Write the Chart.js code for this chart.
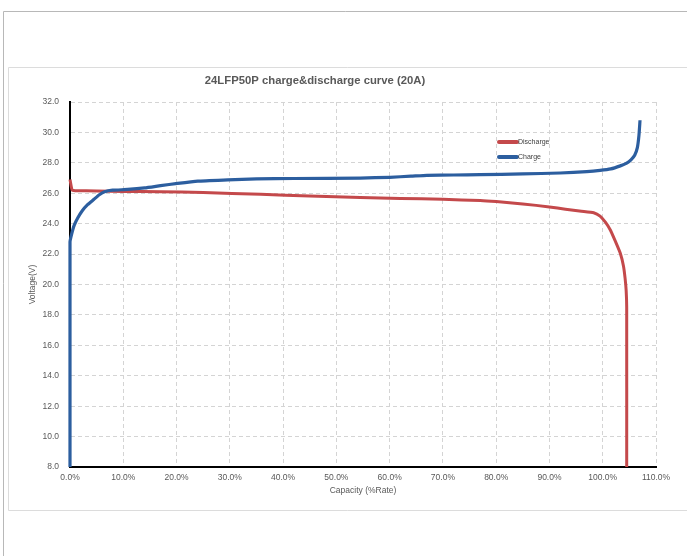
<!DOCTYPE html>
<html>
<head>
<meta charset="utf-8">
<script src="https://cdn.jsdelivr.net/npm/chart.js@4.4.1/dist/chart.umd.min.js"></script>
<style>
html,body{margin:0;padding:0;background:#fff;}
#wrap{position:relative;width:687px;height:556px;}
canvas{display:block;}
</style>
</head>
<body>
<div id="wrap"><canvas id="c" width="687" height="556"></canvas></div>
<script>
const chartTitle = '24LFP50P charge&discharge curve (20A)';
const xTitle = 'Capacity (%Rate)';
const yTitle = 'Voltage(V)';

const chargeCap = [0, 0, 0.3, 0.8, 1.5, 2.3, 3.3, 4.5, 5.5, 6.5, 8, 10.8, 14, 17, 20.2, 24, 29.6, 35, 42, 54.5, 60, 64, 67, 72, 77, 85, 92, 97, 99.5, 101.5, 103.3, 104.5, 105.3, 106, 106.5, 106.8, 107];
const chargeV   = [8.0, 22.8, 23.3, 23.9, 24.4, 24.85, 25.25, 25.6, 25.9, 26.1, 26.2, 26.25, 26.35, 26.5, 26.65, 26.8, 26.88, 26.95, 26.97, 27.0, 27.05, 27.12, 27.18, 27.2, 27.22, 27.27, 27.33, 27.42, 27.5, 27.6, 27.8, 27.98, 28.2, 28.5, 29.0, 29.8, 30.8];

const dischargeCap = [0, 0.4, 1, 5, 10, 17, 25, 35.8, 45, 54.5, 62, 70, 77, 80, 85, 90, 93, 96, 98.3, 99.5, 100.5, 101.4, 102.3, 103.3, 103.9, 104.2, 104.4, 104.5, 104.5];
const dischargeV   = [26.9, 26.2, 26.17, 26.15, 26.12, 26.1, 26.05, 25.93, 25.82, 25.72, 25.66, 25.6, 25.52, 25.45, 25.3, 25.1, 24.95, 24.82, 24.72, 24.5, 24.1, 23.6, 22.9, 22.05, 21.2, 20.4, 19.6, 18.5, 8.0];

const xMin = 0, xMax = 110, xStep = 10;
const yMin = 8, yMax = 32, yStep = 2;

const seriesNames = ['Discharge', 'Charge'];
const seriesColors = ['#c4494b', '#2c5e9f'];

function pts(xs, ys){ return xs.map((x,i)=>({x:x, y:ys[i]})); }

const framePlugin = {
  id:'frame',
  beforeDraw(chart){
    const ctx = chart.ctx;
    ctx.save();
    ctx.fillStyle = '#fff';
    ctx.fillRect(0,0,chart.width,chart.height);
    ctx.strokeStyle = '#b8b8b8';
    ctx.lineWidth = 1;
    ctx.beginPath();
    ctx.moveTo(3.5, 556); ctx.lineTo(3.5, 11.5); ctx.lineTo(687, 11.5);
    ctx.stroke();
    ctx.strokeStyle = '#dcdcdc';
    ctx.beginPath();
    ctx.moveTo(687, 67.5); ctx.lineTo(8.5, 67.5); ctx.lineTo(8.5, 510.5); ctx.lineTo(687, 510.5);
    ctx.stroke();
    ctx.fillStyle = '#595959';
    ctx.font = 'bold 11.3px "Liberation Sans", Arial, sans-serif';
    ctx.textAlign = 'center';
    ctx.textBaseline = 'middle';
    ctx.fillText(chartTitle, 315, 81);
    ctx.restore();
  },
  afterDatasetsDraw(chart){
    const ctx = chart.ctx;
    ctx.save();
    const ys = [142, 157];
    chart.data.datasets.forEach((ds,i)=>{
      const y = ys[i];
      ctx.strokeStyle = ds.borderColor;
      ctx.lineWidth = 4;
      ctx.lineCap = 'round';
      ctx.beginPath();
      ctx.moveTo(499, y); ctx.lineTo(517, y);
      ctx.stroke();
      ctx.fillStyle = '#404040';
      ctx.font = '7px "Liberation Sans", Arial, sans-serif';
      ctx.textAlign = 'left';
      ctx.textBaseline = 'middle';
      ctx.fillText(ds.label, 518, y);
    });
    ctx.restore();
  }
};

const tickFont = {size:8.5, family:'"Liberation Sans", Arial, sans-serif'};

new Chart(document.getElementById('c'), {
  type:'line',
  data:{
    datasets:[
      {label:seriesNames[0], data:pts(dischargeCap, dischargeV), borderColor:seriesColors[0], backgroundColor:seriesColors[0], borderWidth:3, pointRadius:0, tension:0.15, clip:false, order:2},
      {label:seriesNames[1], data:pts(chargeCap, chargeV), borderColor:seriesColors[1], backgroundColor:seriesColors[1], borderWidth:3.2, pointRadius:0, tension:0.15, clip:false, order:1}
    ]
  },
  options:{
    responsive:false,
    animation:false,
    layout:{padding:{left:0, right:31, top:102, bottom:60}},
    plugins:{legend:{display:false}, title:{display:false}, tooltip:{enabled:false}},
    scales:{
      x:{
        type:'linear', min:xMin, max:xMax,
        ticks:{stepSize:xStep, padding:6, color:'#595959', font:tickFont, callback:v=>v.toFixed(1)+'%', maxRotation:0, autoSkip:false},
        grid:{color:'#d4d4d4', drawTicks:false, lineWidth:1},
        border:{display:true, color:'#000', width:2, dash:[4,3]},
        title:{display:true, text:xTitle, color:'#595959', font:tickFont, padding:{top:4,bottom:0}},
        afterFit(s){ s.height = 29; }
      },
      y:{
        type:'linear', min:yMin, max:yMax,
        ticks:{stepSize:yStep, padding:11, color:'#595959', font:tickFont, callback:v=>v.toFixed(1)},
        grid:{color:'#d4d4d4', drawTicks:false, lineWidth:1},
        border:{display:true, color:'#000', width:2, dash:[4,3]},
        title:{display:true, text:yTitle, color:'#595959', font:tickFont, padding:{top:28,bottom:0}},
        afterFit(s){ s.width = 70; }
      }
    }
  },
  plugins:[framePlugin]
});
</script>
</body>
</html>
